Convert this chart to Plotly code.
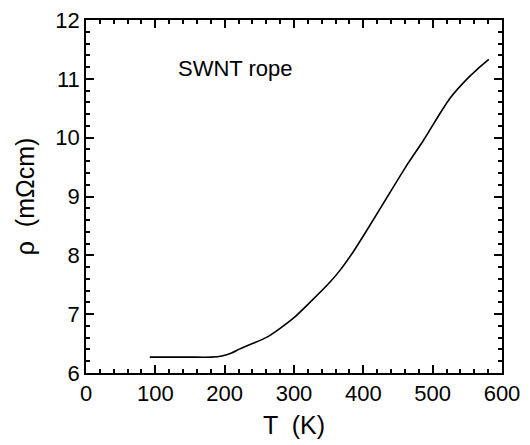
import plotly.graph_objects as go

T = [92, 120, 150, 180, 196, 210, 222, 240, 261, 280, 300, 323, 350, 366, 386,
     410, 438, 461, 487, 511, 525, 549, 565, 581]
rho = [6.27, 6.27, 6.27, 6.27, 6.29, 6.34, 6.41, 6.50, 6.61, 6.76, 6.94, 7.20,
       7.52, 7.74, 8.07, 8.52, 9.06, 9.50, 9.96, 10.42, 10.67, 10.99, 11.17, 11.33]

label = "SWNT rope"
x_title = "T  (K)"
y_title = "ρ  (mΩcm)"

FONT = "Liberation Sans, Arial, sans-serif"

fig = go.Figure()
fig.add_trace(go.Scatter(x=T, y=rho, mode="lines",
                         line=dict(color="black", width=1.6, shape="spline", smoothing=0.6),
                         showlegend=False))

axis_common = dict(
    showline=True, linecolor="black", linewidth=1.5, mirror="ticks",
    ticks="inside", ticklen=8, tickwidth=1.6, tickcolor="black",
    showgrid=False, zeroline=False, automargin=False, ticklabeloverflow="allow",
    tickfont=dict(family=FONT, size=22, color="black"),
)

fig.update_xaxes(range=[0, 600], tickmode="linear", dtick=100, tick0=0,
                 minor=dict(ticks="inside", ticklen=4, dtick=20, tickcolor="black", tickwidth=1.5, showgrid=False),
                 title=dict(text=x_title, font=dict(family=FONT, size=25, color="black"), standoff=11),
                 **axis_common)
fig.update_yaxes(range=[6, 12], tickmode="linear", dtick=1, tick0=6,
                 minor=dict(ticks="inside", ticklen=4, dtick=0.2, tickcolor="black", tickwidth=1.5, showgrid=False),
                 title=dict(text=y_title, font=dict(family=FONT, size=25, color="black"), standoff=14),
                 **axis_common)

fig.add_annotation(x=215, y=11.18, text=label, showarrow=False,
                   font=dict(family=FONT, size=22, color="black"), xanchor="center", yanchor="middle")

fig.update_layout(width=522, height=437,
                  margin=dict(l=78, r=28, t=12, b=72),
                  plot_bgcolor="white", paper_bgcolor="white")

fig.write_html("out.html")
